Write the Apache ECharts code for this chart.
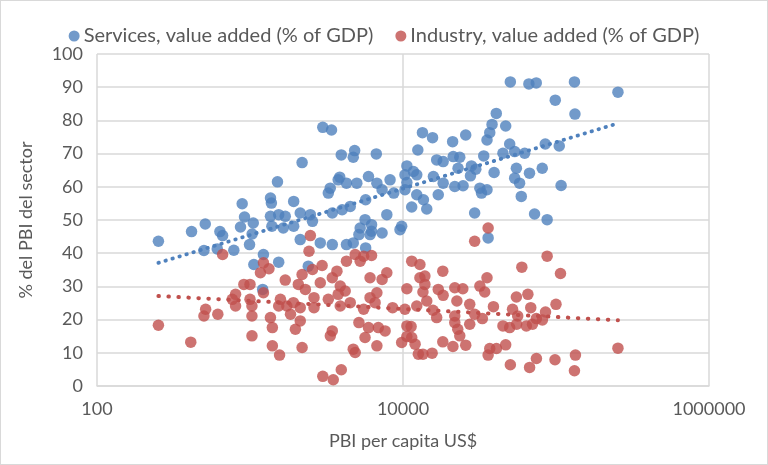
<!DOCTYPE html>
<html>
<head>
<meta charset="utf-8">
<script src="https://cdn.jsdelivr.net/npm/echarts@6/dist/echarts.min.js"></script>
<style>
html,body{margin:0;padding:0;background:#fff;}
#c{width:768px;height:465px;box-sizing:border-box;border:1px solid #d9d9d9;}
</style>
</head>
<body>
<div id="c"></div>
<script>
// Services, value added (% of GDP): GDP per capita (US$) and share
const servicesGdp = [252,415,510,636,662,500,611,784,889,921,867,1050,1033,993,1060,
1512,1361,1380,1930,3345,3250,3770,4270,4990,5950,6750,8230,7300,8700,10600,5700,4520,4000,3450,7840,
1361,1540,1700,2130,2480,2560,1650,1390,1930,5650,6230,5250,5150,6090,7300,9800,2130,2880,3450,4270,4730,
1224,1540,2405,1210,5700,6230,9560,
2990,3410,3950,4830,4730,6690,2190,3860,
50300,66500,74300,98900,132000,254000,133000,105000,108000,40700,38200,36900,46900,35400,13400,15600,12500,
21100,25700,33700,49800,53700,62400,45000,85100,10600,11700,12300,16600,18300,21300,23500,22900,28000,29900,
39400,55100,67100,81300,15800,27600,10300,18300,21800,24700,31800,35400,53700,57800,10300,12300,13600,17000,
14300,11400,32600,59300,29400,72400,87500,36000];
const servicesPct = [43.6,46.5,48.8,46.5,45.3,40.8,41.3,40.9,54.9,50.9,47.9,49.1,45.8,42.6,36.6,
61.5,56.6,55.1,55.6,59.6,58.1,62.1,61.1,61.1,63.1,61.1,62.1,59.1,58.1,61.3,56.1,54.1,53.1,52.1,51.6,
51.1,51.6,51.1,52.1,51.6,49.6,47.6,48.1,48.1,50.1,48.6,47.6,45.6,45.6,46.1,48.1,44.1,43.1,42.6,42.6,43.1,
39.6,37.3,36.1,29.1,41.6,46.6,47.1,
77.9,77.1,69.6,70.9,68.9,69.9,67.3,62.9,
91.6,91.0,91.3,86.1,91.6,88.5,81.9,72.3,60.4,82.1,78.8,76.3,78.3,74.1,76.3,74.8,71.1,
73.6,75.6,69.3,72.9,70.6,70.1,70.1,72.9,66.3,64.6,63.6,68.1,67.6,69.1,68.9,65.6,66.3,65.3,
64.3,65.6,64.1,65.6,63.1,63.3,63.6,61.1,60.1,60.3,59.6,59.1,62.6,61.1,59.1,57.6,56.1,57.6,
53.3,53.9,58.1,57.1,52.1,51.8,50.1,44.6];

// Industry, value added (% of GDP)
const industryGdp = [252,410,513,500,616,662,805,766,912,1000,1030,805,1030,
2480,2430,4270,4870,5530,6230,5250,1224,1330,1170,2560,2960,3700,3450,2190,1700,2070,2880,2300,3890,4190,3770,
6090,7840,7300,6750,6090,2620,3250,1580,1920,1000,1224,1540,1740,2130,2620,3890,4520,5530,6570,8550,10300,
1840,1360,1980,2130,3350,3450,5150,5950,6900,7640,5650,6750,4730,4870,9800,10600,1030,1400,1400,2190,1560,
2990,3500,3950,
36000,29400,87500,59800,107000,11400,12900,18200,35400,12900,13900,13900,10600,13500,17000,21800,24600,31800,
34200,18300,55100,65500,22500,27300,100000,14300,39000,12300,15700,52000,68400,85400,16600,21800,29400,33000,
56200,74400,81500,21800,27300,45000,49800,55300,64000,70200,11300,10600,11400,22800,23500,12000,18200,21200,
25700,46900,36900,40800,36000,12600,13500,15500,74500,98500,50300,67200,132000,134000,254000];
const industryPct = [18.3,13.2,23.1,21.1,21.6,39.6,27.6,26.1,30.6,26.1,24.1,24.1,21.1,
45.3,40.6,37.6,39.6,39.1,39.3,37.6,37.1,35.3,34.1,35.1,36.3,34.6,32.6,33.6,31.9,30.6,31.1,29.1,30.1,28.6,27.6,
32.6,34.1,32.1,28.1,26.6,26.6,26.1,26.1,25.1,30.6,28.1,24.1,24.1,23.6,23.6,24.1,25.1,23.1,25.1,23.6,23.1,
21.6,20.6,17.1,19.6,15.1,16.6,19.1,17.6,17.6,16.6,14.6,12.1,11.1,10.1,13.1,18.1,15.1,17.6,12.1,11.6,9.3,
2.9,1.9,4.9,
47.6,43.6,39.1,35.8,33.9,37.6,36.6,34.6,32.6,32.6,33.1,30.6,29.3,28.3,29.1,29.6,29.3,30.1,
28.3,27.3,26.8,27.6,25.6,24.6,24.6,25.6,23.9,24.1,22.8,23.1,23.6,22.3,20.6,21.1,21.6,20.3,
21.1,20.3,19.9,19.1,18.6,18.1,17.6,18.6,18.1,18.6,17.9,14.9,14.6,17.1,15.1,12.6,13.3,11.9,
12.3,12.4,11.3,11.3,9.3,9.6,9.6,9.9,8.3,7.9,6.4,5.6,4.6,9.3,11.4];

// Logarithmic trend lines (end points)
const trendGdp = [252, 254000];
const servicesTrend = [37.1, 79.1];
const industryTrend = [27.1, 19.8];

const xTicks = [100, 10000, 1000000];

const pair = (xs, ys) => xs.map((x, i) => [x, ys[i]]);
const FONT = 'Lato, "Liberation Sans", sans-serif';
const TXT = '#595959';
const BLUE = '#4F81BD', RED = '#C0504D';

const chart = echarts.init(document.getElementById('c'));
chart.setOption({
  animation: false,
  textStyle: {fontFamily: FONT},
  legend: {
    data: ['Services, value added (% of GDP)', 'Industry, value added (% of GDP)'],
    top: 20, left: 'center', icon: 'circle', itemWidth: 11, itemHeight: 11, itemGap: 22,
    textStyle: {fontSize: 20, color: TXT, fontFamily: FONT, padding: [0, 0, 0, -1]}
  },
  grid: {left: 96, right: 58, top: 53, bottom: 78},
  xAxis: {
    type: 'log', logBase: 100, min: xTicks[0], max: xTicks[2],
    name: 'PBI per capita US$', nameLocation: 'middle', nameGap: 46,
    nameTextStyle: {fontSize: 18, color: TXT, fontFamily: FONT},
    axisLine: {show: true, lineStyle: {color: '#d9d9d9', width: 1.5}},
    axisTick: {show: false},
    axisLabel: {fontSize: 18, color: TXT, margin: 14, formatter: v => String(Math.round(v))},
    splitLine: {show: true, lineStyle: {color: '#d9d9d9', width: 1.5}}
  },
  yAxis: {
    type: 'value', min: 0, max: 100, interval: 10,
    name: '% del PBI del sector', nameLocation: 'middle', nameGap: 62,
    nameTextStyle: {fontSize: 18, color: TXT, fontFamily: FONT},
    axisLine: {show: false}, axisTick: {show: false},
    axisLabel: {fontSize: 18, color: TXT, margin: 14},
    splitLine: {lineStyle: {color: '#d9d9d9', width: 1.5}}
  },
  series: [
    {name: 'Services, value added (% of GDP)', type: 'scatter', symbolSize: 11.5,
     itemStyle: {color: BLUE}, data: pair(servicesGdp, servicesPct), z: 3},
    {name: 'Industry, value added (% of GDP)', type: 'scatter', symbolSize: 11.5,
     itemStyle: {color: RED}, data: pair(industryGdp, industryPct), z: 3},
    {name: 'sTrend', type: 'line', showSymbol: false, silent: true, z: 4,
     lineStyle: {color: BLUE, width: 3.8, type: [0.5, 6.8], cap: 'round'},
     data: pair(trendGdp, servicesTrend)},
    {name: 'iTrend', type: 'line', showSymbol: false, silent: true, z: 4,
     lineStyle: {color: RED, width: 4, type: [0.5, 9.5], cap: 'round'},
     data: pair(trendGdp, industryTrend)}
  ]
});
</script>
</body>
</html>
